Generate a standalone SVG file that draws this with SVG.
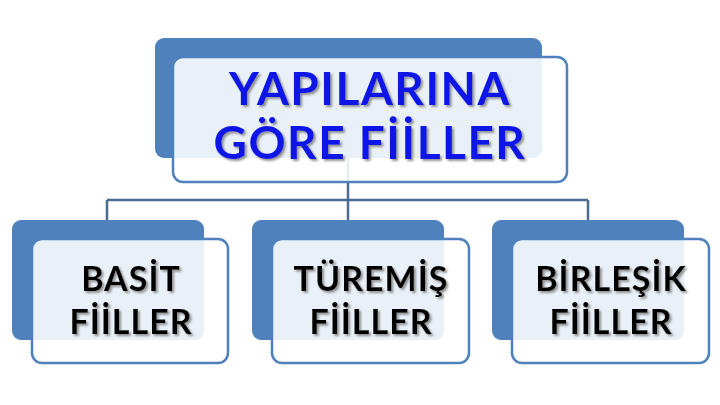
<svg xmlns="http://www.w3.org/2000/svg" width="720" height="405" viewBox="0 0 720 405">
<defs>
<filter id="sh" x="-10%" y="-10%" width="120%" height="130%">
<feDropShadow dx="2" dy="2" stdDeviation="0.8" flood-color="#7a7a7a" flood-opacity="0.8"/>
</filter>
<style>
.back{fill:#4F81BD;}
.front{fill:#ffffff;fill-opacity:0.88;stroke:#4F81BD;stroke-width:2.5;}
.conn{fill:none;stroke:#4A6C93;stroke-width:2.5;}
.t{font-family:Lato,"Open Sans","Liberation Sans",sans-serif;font-weight:bold;text-anchor:middle;filter:url(#sh);}
.top{font-size:46px;fill:#0A14E6;letter-spacing:1.5px;}
.sub{font-size:34px;fill:#000000;letter-spacing:1px;}
</style>
</defs>
<rect width="720" height="405" fill="#ffffff"/>
<g id="connectors">
<path class="conn" d="M348,158 V200 M107,200 H588 M107,200 V220 M348,200 V220 M588,200 V220"/>
</g>
<g id="node-top">
<rect class="back" x="155" y="38" width="387" height="120" rx="9"/>
<rect class="front" x="173" y="57" width="394" height="125" rx="10"/>
<text class="t top" x="370" y="105">YAPILARINA</text>
<text class="t top" x="370" y="159">GÖRE FİİLLER</text>
</g>
<g id="node-basit">
<rect class="back" x="12" y="220" width="192" height="120" rx="9"/>
<rect class="front" x="32" y="239" width="196" height="124" rx="10"/>
<text class="t sub" x="131" y="291">BASİT</text>
<text class="t sub" x="131" y="334">FİİLLER</text>
</g>
<g id="node-turemis">
<rect class="back" x="252" y="220" width="192" height="120" rx="9"/>
<rect class="front" x="272" y="239" width="197" height="124" rx="10"/>
<text class="t sub" x="371" y="291">TÜREMİŞ</text>
<text class="t sub" x="371" y="334">FİİLLER</text>
</g>
<g id="node-birlesik">
<rect class="back" x="492" y="220" width="192" height="120" rx="9"/>
<rect class="front" x="512" y="239" width="197" height="124" rx="10"/>
<text class="t sub" x="611" y="291">BİRLEŞİK</text>
<text class="t sub" x="611" y="334">FİİLLER</text>
</g>
</svg>
